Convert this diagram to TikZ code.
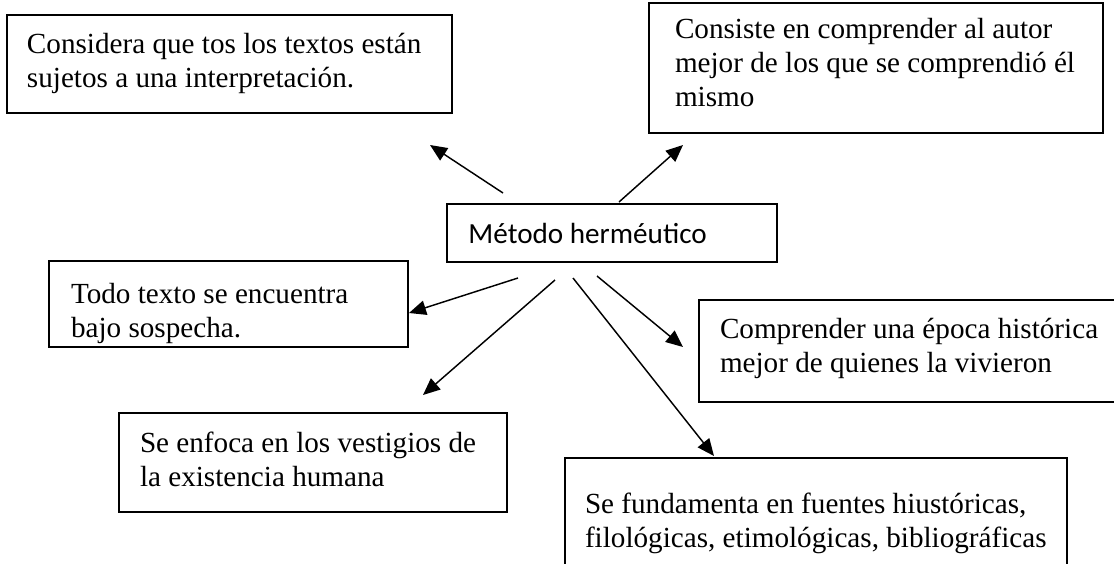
\documentclass[tikz,border=0pt]{standalone}
\usepackage{fontspec}
\setmainfont{Liberation Serif}
\newfontfamily\calibri{Carlito}
\usetikzlibrary{arrows.meta,calc}
\begin{document}
\begin{tikzpicture}[x=0.4115pt,y=-0.4115pt,
  box/.style={draw,line width=0.7pt,inner sep=0pt,outer sep=0pt,anchor=north west},
  txt/.style={inner sep=0pt,outer sep=0pt,anchor=north west,align=left,font=\fontsize{12}{14}\selectfont},
  arr/.style={line width=0.6pt,-{Triangle[length=7pt,width=6pt]}}]
\path[use as bounding box] (0,0) rectangle (1114,563);
\clip (0,0) rectangle (1114,563);
% boxes
\node[box,minimum width={445*0.4115pt},minimum height={98*0.4115pt}] (b1) at (7,15) {};
\node[box,minimum width={454*0.4115pt},minimum height={130*0.4115pt}] (b2) at (649,3) {};
\node[box,minimum width={330*0.4115pt},minimum height={58*0.4115pt}] (bc) at (447,204) {};
\node[box,minimum width={359*0.4115pt},minimum height={86*0.4115pt}] (b3) at (49,261) {};
\node[box,minimum width={440*0.4115pt},minimum height={102*0.4115pt}] (b4) at (699,300) {};
\node[box,minimum width={388*0.4115pt},minimum height={99*0.4115pt}] (b5) at (119,413) {};
\node[box,minimum width={502*0.4115pt},minimum height={140*0.4115pt}] (b6) at (565,458) {};
% texts
\node[txt] (t1) at ($(b1.north west)+(20,14.2)$) {\strut Considera que tos los textos están\\sujetos a una interpretación.};
\node[txt] (t2) at ($(b2.north west)+(26,11.2)$) {\strut Consiste en comprender al autor\\mejor de los que se comprendió él\\mismo};
\node[inner sep=0pt,anchor=base west,font=\calibri\fontsize{12}{14}\selectfont] (tc) at (468,243) {Método herméutico};
\node[txt] (t3) at ($(b3.north west)+(22,18.2)$) {\strut Todo texto se encuentra\\bajo sospecha.};
\node[txt] (t4) at ($(b4.north west)+(21,14.2)$) {\strut Comprender una época histórica\\mejor de quienes la vivieron};
\node[txt] (t5) at ($(b5.north west)+(21,15.2)$) {\strut Se enfoca en los vestigios de\\la existencia humana};
\node[txt] (t6) at ($(b6.north west)+(20,31.2)$) {\strut Se fundamenta en fuentes hiustóricas,\\filológicas, etimológicas, bibliográficas};
% arrow ends
\coordinate (a1s) at (503,193); \coordinate (a1e) at (430,145);
\coordinate (a2s) at (619,202); \coordinate (a2e) at (683,145);
\coordinate (a3s) at (518,278); \coordinate (a3e) at (409,313);
\coordinate (a4s) at (555,280); \coordinate (a4e) at (423,395);
\coordinate (a5s) at (573,278); \coordinate (a5e) at (714,456);
\coordinate (a6s) at (597,276); \coordinate (a6e) at (683,347);
\draw[arr] (a1s) -- (a1e);
\draw[arr] (a2s) -- (a2e);
\draw[arr] (a3s) -- (a3e);
\draw[arr] (a4s) -- (a4e);
\draw[arr] (a5s) -- (a5e);
\draw[arr] (a6s) -- (a6e);
\end{tikzpicture}
\end{document}
